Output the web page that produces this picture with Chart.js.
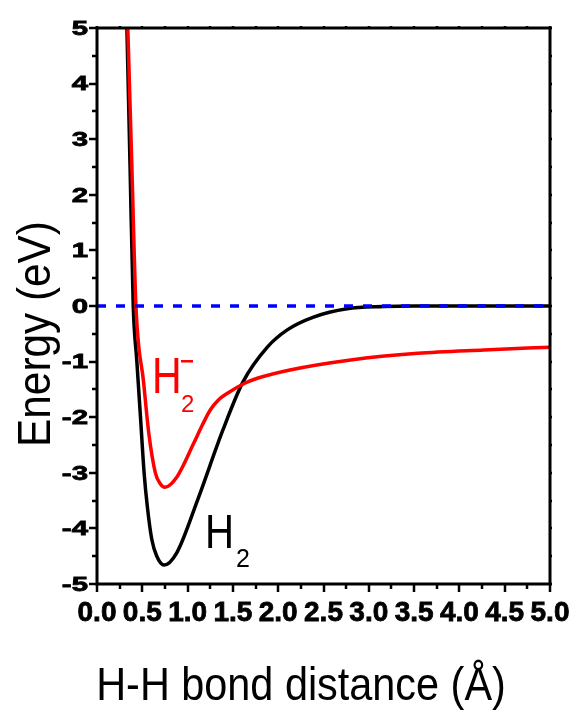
<!DOCTYPE html>
<html>
	<head>
		<title>H2 potential energy curves</title>
		<meta http-equiv="Content-Type" content="text/html; charset=UTF-8" />
		<script src="https://cdn.jsdelivr.net/npm/chart.js@4.4.0/dist/chart.umd.min.js"></script>
		<style>
			html, body { margin: 0; padding: 0; background: #fff; }
			canvas { display: block; }
		</style>
		<script>

			// H2 curve (black)
			var h2Dist   = [0.33, 0.365, 0.40, 0.44, 0.48, 0.52, 0.555, 0.605, 0.66, 0.74, 0.88, 1.11, 1.39, 1.61, 1.88, 2.10, 2.39, 2.76, 3.16, 3.50, 4.00, 4.50, 5.00];
			var h2Energy = [5.00, 2.50, 0.00, -1.00, -2.00, -3.00, -3.60, -4.20, -4.50, -4.66, -4.44, -3.49, -2.23, -1.37, -0.74, -0.43, -0.20, -0.05, -0.01, 0.00, 0.00, 0.00, 0.00];

			// H2- curve (red)
			var h2mDist   = [0.34, 0.385, 0.43, 0.515, 0.571, 0.644, 0.70, 0.75, 0.88, 1.07, 1.16, 1.25, 1.34, 1.44, 1.63, 1.77, 2.13, 2.80, 3.54, 4.27, 5.00];
			var h2mEnergy = [5.00, 2.50, 0.00, -1.38, -2.28, -3.00, -3.20, -3.26, -3.08, -2.46, -2.15, -1.87, -1.69, -1.57, -1.39, -1.30, -1.15, -0.97, -0.85, -0.79, -0.74];

			// zero reference line (blue dashed)
			var zeroDist   = [0, 5];
			var zeroEnergy = [0, 0];

			// axis ticks
			var xTicks = [0, 0.5, 1, 1.5, 2, 2.5, 3, 3.5, 4, 4.5, 5];
			var yTicks = [-5, -4, -3, -2, -1, 0, 1, 2, 3, 4, 5];

			function toPoints(xs, ys) {
				var pts = [];
				for (var i = 0; i < xs.length; i++) {
					pts.push({x: xs[i], y: ys[i]});
				}
				return pts;
			}

			// frame, ticks, y labels, axis titles and curve labels
			var decorPlugin = {
				id: 'decor',
				afterDraw: function(chart) {
					var ctx = chart.ctx;
					var a = chart.chartArea;
					var xs = chart.scales.x;
					var ys = chart.scales.y;
					var v, p, len, i;

					ctx.save();
					ctx.strokeStyle = '#000';

					// ticks
					ctx.lineWidth = 2.5;
					ctx.beginPath();
					for (v = -5; v <= 5.001; v += 0.5) {
						p = Math.round(ys.getPixelForValue(v));
						len = (Math.abs(v % 1) < 0.01) ? 8 : 5;
						ctx.moveTo(a.left - len, p); ctx.lineTo(a.left, p);
						ctx.moveTo(a.right, p); ctx.lineTo(a.right + 2, p);
					}
					for (v = 0; v <= 5.001; v += 0.25) {
						p = Math.round(xs.getPixelForValue(v));
						len = (Math.abs(v % 0.5) < 0.01) ? 8 : 5;
						ctx.moveTo(p, a.bottom); ctx.lineTo(p, a.bottom + len);
						ctx.moveTo(p, a.top); ctx.lineTo(p, a.top - 2);
					}
					ctx.stroke();

					// frame
					ctx.lineWidth = 3;
					ctx.strokeRect(a.left, a.top, a.right - a.left, a.bottom - a.top);

					// y tick labels: wide, heavy digits
					ctx.fillStyle = '#000';
					ctx.lineWidth = 0.8;
					ctx.font = 'bold 21px "Liberation Sans"';
					ctx.textAlign = 'right';
					ctx.textBaseline = 'middle';
					for (i = 0; i < yTicks.length; i++) {
						p = ys.getPixelForValue(yTicks[i]);
						ctx.save();
						ctx.translate(a.left - 9, p + 1);
						ctx.scale(1.4, 1);
						ctx.fillText(String(yTicks[i]), 0, 0);
						ctx.strokeText(String(yTicks[i]), 0, 0);
						ctx.restore();
					}

					// axis titles
					ctx.font = '46px "Liberation Sans"';
					ctx.textAlign = 'center';
					ctx.textBaseline = 'alphabetic';
					ctx.save();
					ctx.translate(301, 700);
					ctx.scale(0.9, 1);
					ctx.fillText('H-H bond distance (\u00C5)', 0, 0);
					ctx.restore();

					ctx.save();
					ctx.translate(50, 334);
					ctx.rotate(-Math.PI / 2);
					ctx.scale(0.92, 1);
					ctx.fillText('Energy (eV)', 0, 0);
					ctx.restore();

					// curve labels
					ctx.textAlign = 'left';
					var bx = xs.getPixelForValue(1.214), by = ys.getPixelForValue(-4.35);
					ctx.fillStyle = '#000';
					ctx.save();
					ctx.translate(bx - 2, by);
					ctx.scale(0.82, 1);
					ctx.font = '49px "Liberation Sans"';
					ctx.fillText('H', 0, 0);
					ctx.restore();
					ctx.font = '25px "Liberation Sans"';
					ctx.fillText('2', bx + 29, by + 19);

					var rx = xs.getPixelForValue(0.629), ry = ys.getPixelForValue(-1.565);
					ctx.fillStyle = '#ff0000';
					ctx.save();
					ctx.translate(rx - 2, ry);
					ctx.scale(0.82, 1);
					ctx.font = '50px "Liberation Sans"';
					ctx.fillText('H', 0, 0);
					ctx.restore();
					ctx.font = '24px "Liberation Sans"';
					ctx.fillText('2', rx + 27, ry + 19);
					ctx.fillRect(rx + 27, ry - 33, 12, 2.5);

					ctx.restore();
				}
			};

			window.onload = function() {
				var ctx = document.getElementById('myChart').getContext('2d');

				var chart = new Chart(ctx, {
					type: 'scatter',
					data: {
						datasets: [{
							label: 'zero',
							data: toPoints(zeroDist, zeroEnergy),
							showLine: true,
							borderColor: '#0000ff',
							borderWidth: 3.5,
							borderDash: [9, 10],
							pointRadius: 0,
							order: 0
						}, {
							label: 'H2-',
							data: toPoints(h2mDist, h2mEnergy),
							showLine: true,
							borderColor: '#ff0000',
							borderWidth: 3.5,
							cubicInterpolationMode: 'monotone',
							pointRadius: 0,
							order: 1
						}, {
							label: 'H2',
							data: toPoints(h2Dist, h2Energy),
							showLine: true,
							borderColor: '#000000',
							borderWidth: 3.5,
							cubicInterpolationMode: 'monotone',
							pointRadius: 0,
							order: 2
						}]
					},
					options: {
						responsive: false,
						animation: false,
						events: [],
						layout: {
							padding: {left: 0, top: 28, right: 24, bottom: 0}
						},
						plugins: {
							legend: {display: false},
							tooltip: {enabled: false}
						},
						scales: {
							x: {
								type: 'linear',
								min: 0,
								max: 5,
								afterFit: function(s) { s.height = 126; },
								afterBuildTicks: function(s) {
									s.ticks = xTicks.map(function(v) { return {value: v}; });
								},
								grid: {display: false},
								border: {display: false},
								ticks: {
									color: '#000',
									padding: 4,
									maxRotation: 0,
									autoSkip: false,
									textStrokeColor: '#000',
									textStrokeWidth: 0.8,
									font: {family: 'Liberation Sans', size: 28, weight: 'bold'},
									callback: function(v) { return v.toFixed(1); }
								}
							},
							y: {
								type: 'linear',
								min: -5,
								max: 5,
								afterFit: function(s) { s.width = 97; },
								afterBuildTicks: function(s) {
									s.ticks = yTicks.map(function(v) { return {value: v}; });
								},
								grid: {display: false},
								border: {display: false},
								ticks: {display: false}
							}
						}
					},
					plugins: [decorPlugin]
				});
			};

		</script>
	</head>
	<body>
		<canvas id="myChart" width="574" height="710"></canvas>
	</body>
</html>
